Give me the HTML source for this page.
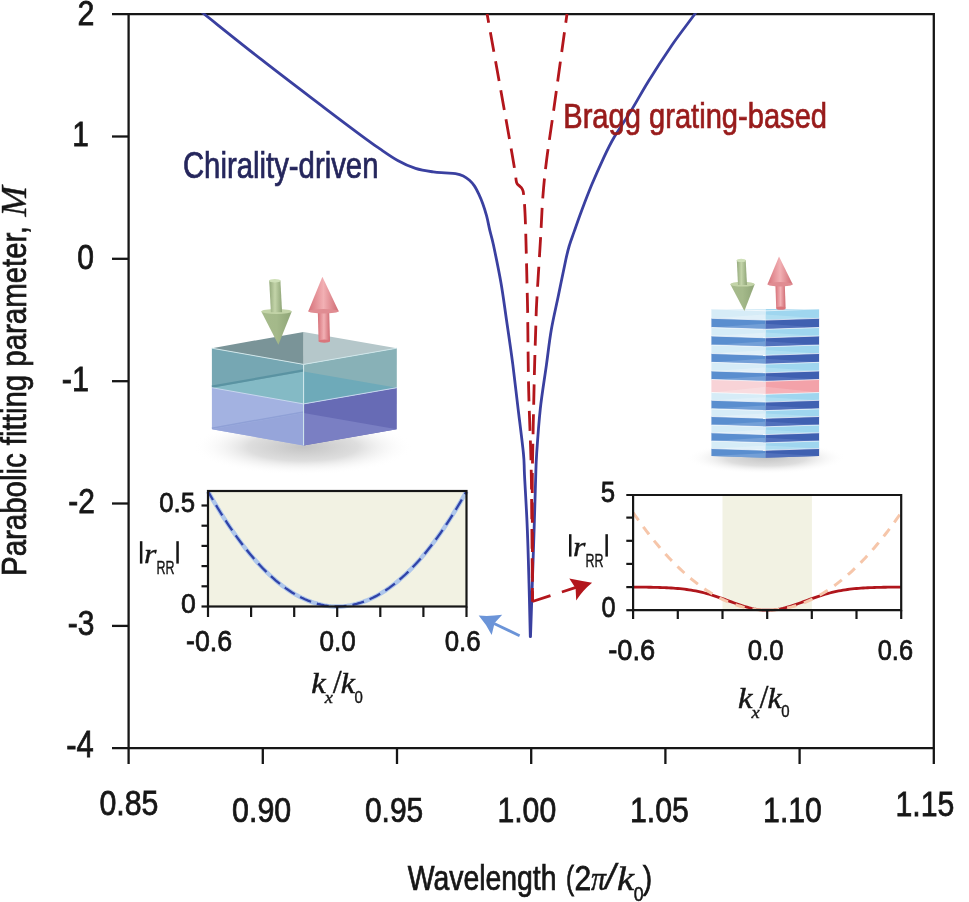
<!DOCTYPE html>
<html><head><meta charset="utf-8"><title>Parabolic fitting parameter</title>
<style>html,body{margin:0;padding:0;background:#fff;width:969px;height:902px;overflow:hidden}
svg{display:block;will-change:transform}</style></head>
<body><svg width="969" height="902" viewBox="0 0 969 902">
<rect width="969" height="902" fill="#fff"/>
<g stroke="#161616" stroke-width="2.3" fill="none">
<path d="M112,14.1 H933.8 V748.2 H112"/>
<path d="M128.6,13.0 V764"/>
<path d="M933.8,748.2 V764"/>
<path d="M112,136.5 H128.6"/>
<path d="M112,258.8 H128.6"/>
<path d="M112,381.2 H128.6"/>
<path d="M112,503.5 H128.6"/>
<path d="M112,625.9 H128.6"/>
<path d="M262.8,748.2 V764"/>
<path d="M397.0,748.2 V764"/>
<path d="M531.2,748.2 V764"/>
<path d="M665.4,748.2 V764"/>
<path d="M799.6,748.2 V764"/>
</g>
<text transform="translate(77.47,24.52) scale(0.8600,1)" font-family='"Liberation Sans", sans-serif' font-size="35.36" fill="#161616" stroke="#161616" stroke-width="0.75">2</text>
<text transform="translate(72.30,146.32) scale(0.8600,1)" font-family='"Liberation Sans", sans-serif' font-size="34.71" fill="#161616" stroke="#161616" stroke-width="0.75">1</text>
<text transform="translate(77.27,268.77) scale(0.8600,1)" font-family='"Liberation Sans", sans-serif' font-size="35.00" fill="#161616" stroke="#161616" stroke-width="0.75">0</text>
<text transform="translate(61.77,390.93) scale(0.8600,1)" font-family='"Liberation Sans", sans-serif' font-size="35.58" fill="#161616" stroke="#161616" stroke-width="0.75">-1</text>
<text transform="translate(68.20,513.23) scale(0.8600,1)" font-family='"Liberation Sans", sans-serif' font-size="34.79" fill="#161616" stroke="#161616" stroke-width="0.75">-2</text>
<text transform="translate(67.84,634.98) scale(0.8600,1)" font-family='"Liberation Sans", sans-serif' font-size="34.86" fill="#161616" stroke="#161616" stroke-width="0.75">-3</text>
<text transform="translate(66.19,757.42) scale(0.8600,1)" font-family='"Liberation Sans", sans-serif' font-size="36.01" fill="#161616" stroke="#161616" stroke-width="0.75">-4</text>
<text transform="translate(99.46,814.88) scale(0.8841,1)" font-family='"Liberation Sans", sans-serif' font-size="34.30" fill="#161616" stroke="#161616" stroke-width="0.75">0.85</text>
<text transform="translate(232.06,822.07) scale(0.8617,1)" font-family='"Liberation Sans", sans-serif' font-size="35.28" fill="#161616" stroke="#161616" stroke-width="0.75">0.90</text>
<text transform="translate(364.88,822.07) scale(0.8503,1)" font-family='"Liberation Sans", sans-serif' font-size="35.28" fill="#161616" stroke="#161616" stroke-width="0.75">0.95</text>
<text transform="translate(497.41,822.07) scale(0.8565,1)" font-family='"Liberation Sans", sans-serif' font-size="35.28" fill="#161616" stroke="#161616" stroke-width="0.75">1.00</text>
<text transform="translate(630.00,822.07) scale(0.8588,1)" font-family='"Liberation Sans", sans-serif' font-size="35.28" fill="#161616" stroke="#161616" stroke-width="0.75">1.05</text>
<text transform="translate(763.11,822.07) scale(0.8565,1)" font-family='"Liberation Sans", sans-serif' font-size="35.28" fill="#161616" stroke="#161616" stroke-width="0.75">1.10</text>
<text transform="translate(895.51,815.57) scale(0.8624,1)" font-family='"Liberation Sans", sans-serif' font-size="35.07" fill="#161616" stroke="#161616" stroke-width="0.75">1.15</text>
<text transform="translate(407.73,889.90) scale(0.8230,1)" font-family='"Liberation Sans", sans-serif' font-size="34.50" fill="#161616" stroke="#161616" stroke-width="0.75">Wavelength</text>
<text transform="translate(566.11,889.41) scale(0.7282,1)" font-family='"Liberation Sans", sans-serif' font-size="33.42" fill="#161616" stroke="#161616" stroke-width="0.75">(</text>
<text transform="translate(574.38,889.73) scale(0.8732,1)" font-family='"Liberation Sans", sans-serif' font-size="34.36" fill="#161616" stroke="#161616" stroke-width="0.75">2</text>
<text transform="translate(591.10,889.52) scale(0.9038,1)" font-family='"Liberation Serif", serif' font-style="italic" font-size="32.98" fill="#161616" stroke="#161616" stroke-width="0.50">π</text>
<text transform="translate(605.51,889.41) scale(1.0417,1)" font-family='"Liberation Sans", sans-serif' font-style="italic" font-size="34.29" fill="#161616" stroke="#161616" stroke-width="0.50">/</text>
<text transform="translate(616.90,890.00) scale(1.1421,1)" font-family='"Liberation Serif", serif' font-style="italic" font-size="33.60" fill="#161616" stroke="#161616" stroke-width="0.50">k</text>
<text transform="translate(633.64,900.95) scale(0.9045,1)" font-family='"Liberation Sans", sans-serif' font-size="19.58" fill="#161616" stroke="#161616" stroke-width="0.50">0</text>
<text transform="translate(642.83,889.41) scale(0.8411,1)" font-family='"Liberation Sans", sans-serif' font-size="33.42" fill="#161616" stroke="#161616" stroke-width="0.75">)</text>
<g transform="translate(0,902) rotate(-90)">
<text transform="translate(326.02,25.60) scale(0.8427,1)" font-family='"Liberation Sans", sans-serif' font-size="34.93" fill="#161616" stroke="#161616" stroke-width="0.75">Parabolic fitting parameter,</text>
<text transform="translate(685.57,25.60) scale(1.0399,1)" font-family='"Liberation Serif", serif' font-style="italic" font-size="35.11" fill="#161616" stroke="#161616" stroke-width="0.40">M</text>
</g>
<defs>
<radialGradient id="shadowL" cx="50%" cy="50%" r="50%">
 <stop offset="0" stop-color="#c4c4c4"/><stop offset="0.5" stop-color="#dedede"/><stop offset="1" stop-color="#ffffff" stop-opacity="0"/>
</radialGradient>
<linearGradient id="gArrowG" x1="0" y1="0" x2="1" y2="0">
 <stop offset="0" stop-color="#95aa7d"/><stop offset="0.45" stop-color="#c3d4a9"/><stop offset="1" stop-color="#8fa577"/>
</linearGradient>
<linearGradient id="gArrowGH" x1="0" y1="0" x2="1" y2="0">
 <stop offset="0" stop-color="#a6ba8c"/><stop offset="0.5" stop-color="#a4b98a"/><stop offset="1" stop-color="#8fa577"/>
</linearGradient>
<linearGradient id="gArrowR" x1="0" y1="0" x2="1" y2="0">
 <stop offset="0" stop-color="#d6727a"/><stop offset="0.5" stop-color="#f2b0b4"/><stop offset="1" stop-color="#cf6a72"/>
</linearGradient>
</defs>
<ellipse cx="303" cy="447" rx="110" ry="28" fill="url(#shadowL)"/>
<polygon points="211.9,387.7 303.6,403.9 303.6,445.4 211.9,429.2" fill="#a3b2e1" />
<polygon points="303.6,403.9 396.8,387.7 396.8,429.2 303.6,445.4" fill="#676bb5" />
<polygon points="211.9,429.2 303.6,412.9 303.6,445.4" fill="#96a5da" />
<polygon points="303.6,412.9 396.8,429.2 303.6,445.4" fill="#7a7fc3" />
<polygon points="211.9,348.2 303.6,364.4 303.6,403.9 211.9,387.7" fill="#76a7b3" />
<polygon points="303.6,364.4 396.8,348.2 396.8,387.7 303.6,403.9" fill="#88b1b7" />
<polygon points="211.9,387.7 303.6,371.4 303.6,403.9" fill="#84bac5" />
<polygon points="303.6,371.4 396.8,387.7 303.6,403.9" fill="#6eaab9" />
<line x1="211.9" y1="386.7" x2="303.6" y2="370.4" stroke="#5a93a2" stroke-width="2.2"/>
<line x1="211.9" y1="428.2" x2="303.6" y2="411.9" stroke="#8fa0d6" stroke-width="1.5"/>
<polygon points="211.9,348.2 303.6,331.9 303.6,364.4" fill="#7a9498" />
<polygon points="303.6,331.9 396.8,348.2 303.6,364.4" fill="#b5c7ca" />
<polyline points="211.9,348.2 303.6,364.4 396.8,348.2" fill="none" stroke="#cfe6ea" stroke-width="1"/>
<polyline points="211.9,387.7 303.6,403.9 396.8,387.7" fill="none" stroke="#c8d6f0" stroke-width="1"/>
<line x1="303.6" y1="364.4" x2="303.6" y2="445.4" stroke="#d5ecef" stroke-width="1"/>
<path d="M261.3,311.5 L291.7,311.5 L278.4,344.8 Z" fill="url(#gArrowGH)"/><ellipse cx="276.5" cy="311.5" rx="15.2" ry="2.4" fill="#c3d4a8"/><polygon points="269.2,280.5 280.4,280.5 282.1,312.3 270.9,312.3" fill="url(#gArrowG)"/><ellipse cx="274.8" cy="280.8" rx="5.7" ry="1.7" fill="#cfe0b8"/>
<polygon points="317.8,311.3 329.2,311.3 330.0,341.2 318.6,341.2" fill="url(#gArrowR)"/><ellipse cx="324.3" cy="341.2" rx="5.7" ry="1.6" fill="#d9767c"/><path d="M308.3,311.3 L338.7,311.3 L322.4,276.8 Z" fill="url(#gArrowR)"/><ellipse cx="323.5" cy="311.3" rx="15.2" ry="2.2" fill="#e08c92"/>
<ellipse cx="766" cy="458" rx="80" ry="16" fill="url(#shadowL)"/>
<polygon points="711.4,309.0 765.7,309.0 765.7,320.1 711.4,318.3" fill="#d6ecf7" />
<polygon points="765.7,309.0 819.1,309.0 819.1,318.3 765.7,320.1" fill="#9fd6ef" />
<polygon points="711.4,318.3 765.7,314.4 765.7,320.1" fill="#e4f2f9" opacity="0.7"/>
<polygon points="765.7,314.4 819.1,318.3 765.7,320.1" fill="#b7e1f3" opacity="0.7"/>
<polyline points="711.4,309.0 765.7,310.8 819.1,309.0" fill="none" stroke="#ffffff" stroke-width="0.8" opacity="0.8"/>
<polygon points="711.4,318.3 765.7,320.1 765.7,329.3 711.4,327.5" fill="#5a8ecf" />
<polygon points="765.7,320.1 819.1,318.3 819.1,327.5 765.7,329.3" fill="#3f60b1" />
<polygon points="711.4,327.5 765.7,323.7 765.7,329.3" fill="#7ea6da" opacity="0.7"/>
<polygon points="765.7,323.7 819.1,327.5 765.7,329.3" fill="#5a77c0" opacity="0.7"/>
<polyline points="711.4,318.3 765.7,320.1 819.1,318.3" fill="none" stroke="#ffffff" stroke-width="0.8" opacity="0.8"/>
<polygon points="711.4,327.5 765.7,329.3 765.7,337.8 711.4,336.0" fill="#d6ecf7" />
<polygon points="765.7,329.3 819.1,327.5 819.1,336.0 765.7,337.8" fill="#9fd6ef" />
<polygon points="711.4,336.0 765.7,332.6 765.7,337.8" fill="#e4f2f9" opacity="0.7"/>
<polygon points="765.7,332.6 819.1,336.0 765.7,337.8" fill="#b7e1f3" opacity="0.7"/>
<polyline points="711.4,327.5 765.7,329.3 819.1,327.5" fill="none" stroke="#ffffff" stroke-width="0.8" opacity="0.8"/>
<polygon points="711.4,336.0 765.7,337.8 765.7,346.8 711.4,345.0" fill="#5a8ecf" />
<polygon points="765.7,337.8 819.1,336.0 819.1,345.0 765.7,346.8" fill="#3f60b1" />
<polygon points="711.4,345.0 765.7,341.3 765.7,346.8" fill="#7ea6da" opacity="0.7"/>
<polygon points="765.7,341.3 819.1,345.0 765.7,346.8" fill="#5a77c0" opacity="0.7"/>
<polyline points="711.4,336.0 765.7,337.8 819.1,336.0" fill="none" stroke="#ffffff" stroke-width="0.8" opacity="0.8"/>
<polygon points="711.4,345.0 765.7,346.8 765.7,355.3 711.4,353.5" fill="#d6ecf7" />
<polygon points="765.7,346.8 819.1,345.0 819.1,353.5 765.7,355.3" fill="#9fd6ef" />
<polygon points="711.4,353.5 765.7,350.1 765.7,355.3" fill="#e4f2f9" opacity="0.7"/>
<polygon points="765.7,350.1 819.1,353.5 765.7,355.3" fill="#b7e1f3" opacity="0.7"/>
<polyline points="711.4,345.0 765.7,346.8 819.1,345.0" fill="none" stroke="#ffffff" stroke-width="0.8" opacity="0.8"/>
<polygon points="711.4,353.5 765.7,355.3 765.7,364.1 711.4,362.3" fill="#5a8ecf" />
<polygon points="765.7,355.3 819.1,353.5 819.1,362.3 765.7,364.1" fill="#3f60b1" />
<polygon points="711.4,362.3 765.7,358.7 765.7,364.1" fill="#7ea6da" opacity="0.7"/>
<polygon points="765.7,358.7 819.1,362.3 765.7,364.1" fill="#5a77c0" opacity="0.7"/>
<polyline points="711.4,353.5 765.7,355.3 819.1,353.5" fill="none" stroke="#ffffff" stroke-width="0.8" opacity="0.8"/>
<polygon points="711.4,362.3 765.7,364.1 765.7,372.8 711.4,371.0" fill="#d6ecf7" />
<polygon points="765.7,364.1 819.1,362.3 819.1,371.0 765.7,372.8" fill="#9fd6ef" />
<polygon points="711.4,371.0 765.7,367.4 765.7,372.8" fill="#e4f2f9" opacity="0.7"/>
<polygon points="765.7,367.4 819.1,371.0 765.7,372.8" fill="#b7e1f3" opacity="0.7"/>
<polyline points="711.4,362.3 765.7,364.1 819.1,362.3" fill="none" stroke="#ffffff" stroke-width="0.8" opacity="0.8"/>
<polygon points="711.4,371.0 765.7,372.8 765.7,381.3 711.4,379.5" fill="#5a8ecf" />
<polygon points="765.7,372.8 819.1,371.0 819.1,379.5 765.7,381.3" fill="#3f60b1" />
<polygon points="711.4,379.5 765.7,376.1 765.7,381.3" fill="#7ea6da" opacity="0.7"/>
<polygon points="765.7,376.1 819.1,379.5 765.7,381.3" fill="#5a77c0" opacity="0.7"/>
<polyline points="711.4,371.0 765.7,372.8 819.1,371.0" fill="none" stroke="#ffffff" stroke-width="0.8" opacity="0.8"/>
<polygon points="711.4,379.5 765.7,381.3 765.7,394.3 711.4,392.5" fill="#f8d3d7" />
<polygon points="765.7,381.3 819.1,379.5 819.1,392.5 765.7,394.3" fill="#f3a2a9" />
<polygon points="711.4,392.5 765.7,386.8 765.7,394.3" fill="#fae0e2" opacity="0.7"/>
<polygon points="765.7,386.8 819.1,392.5 765.7,394.3" fill="#f6b8bd" opacity="0.7"/>
<polyline points="711.4,379.5 765.7,381.3 819.1,379.5" fill="none" stroke="#ffffff" stroke-width="0.8" opacity="0.8"/>
<polygon points="711.4,392.5 765.7,394.3 765.7,402.1 711.4,400.3" fill="#d6ecf7" />
<polygon points="765.7,394.3 819.1,392.5 819.1,400.3 765.7,402.1" fill="#9fd6ef" />
<polygon points="711.4,400.3 765.7,397.2 765.7,402.1" fill="#e4f2f9" opacity="0.7"/>
<polygon points="765.7,397.2 819.1,400.3 765.7,402.1" fill="#b7e1f3" opacity="0.7"/>
<polyline points="711.4,392.5 765.7,394.3 819.1,392.5" fill="none" stroke="#ffffff" stroke-width="0.8" opacity="0.8"/>
<polygon points="711.4,400.3 765.7,402.1 765.7,410.6 711.4,408.8" fill="#5a8ecf" />
<polygon points="765.7,402.1 819.1,400.3 819.1,408.8 765.7,410.6" fill="#3f60b1" />
<polygon points="711.4,408.8 765.7,405.4 765.7,410.6" fill="#7ea6da" opacity="0.7"/>
<polygon points="765.7,405.4 819.1,408.8 765.7,410.6" fill="#5a77c0" opacity="0.7"/>
<polyline points="711.4,400.3 765.7,402.1 819.1,400.3" fill="none" stroke="#ffffff" stroke-width="0.8" opacity="0.8"/>
<polygon points="711.4,408.8 765.7,410.6 765.7,418.3 711.4,416.5" fill="#d6ecf7" />
<polygon points="765.7,410.6 819.1,408.8 819.1,416.5 765.7,418.3" fill="#9fd6ef" />
<polygon points="711.4,416.5 765.7,413.4 765.7,418.3" fill="#e4f2f9" opacity="0.7"/>
<polygon points="765.7,413.4 819.1,416.5 765.7,418.3" fill="#b7e1f3" opacity="0.7"/>
<polyline points="711.4,408.8 765.7,410.6 819.1,408.8" fill="none" stroke="#ffffff" stroke-width="0.8" opacity="0.8"/>
<polygon points="711.4,416.5 765.7,418.3 765.7,426.8 711.4,425.0" fill="#5a8ecf" />
<polygon points="765.7,418.3 819.1,416.5 819.1,425.0 765.7,426.8" fill="#3f60b1" />
<polygon points="711.4,425.0 765.7,421.6 765.7,426.8" fill="#7ea6da" opacity="0.7"/>
<polygon points="765.7,421.6 819.1,425.0 765.7,426.8" fill="#5a77c0" opacity="0.7"/>
<polyline points="711.4,416.5 765.7,418.3 819.1,416.5" fill="none" stroke="#ffffff" stroke-width="0.8" opacity="0.8"/>
<polygon points="711.4,425.0 765.7,426.8 765.7,434.6 711.4,432.8" fill="#d6ecf7" />
<polygon points="765.7,426.8 819.1,425.0 819.1,432.8 765.7,434.6" fill="#9fd6ef" />
<polygon points="711.4,432.8 765.7,429.7 765.7,434.6" fill="#e4f2f9" opacity="0.7"/>
<polygon points="765.7,429.7 819.1,432.8 765.7,434.6" fill="#b7e1f3" opacity="0.7"/>
<polyline points="711.4,425.0 765.7,426.8 819.1,425.0" fill="none" stroke="#ffffff" stroke-width="0.8" opacity="0.8"/>
<polygon points="711.4,432.8 765.7,434.6 765.7,442.8 711.4,441.0" fill="#5a8ecf" />
<polygon points="765.7,434.6 819.1,432.8 819.1,441.0 765.7,442.8" fill="#3f60b1" />
<polygon points="711.4,441.0 765.7,437.7 765.7,442.8" fill="#7ea6da" opacity="0.7"/>
<polygon points="765.7,437.7 819.1,441.0 765.7,442.8" fill="#5a77c0" opacity="0.7"/>
<polyline points="711.4,432.8 765.7,434.6 819.1,432.8" fill="none" stroke="#ffffff" stroke-width="0.8" opacity="0.8"/>
<polygon points="711.4,441.0 765.7,442.8 765.7,450.3 711.4,448.5" fill="#d6ecf7" />
<polygon points="765.7,442.8 819.1,441.0 819.1,448.5 765.7,450.3" fill="#9fd6ef" />
<polygon points="711.4,448.5 765.7,445.6 765.7,450.3" fill="#e4f2f9" opacity="0.7"/>
<polygon points="765.7,445.6 819.1,448.5 765.7,450.3" fill="#b7e1f3" opacity="0.7"/>
<polyline points="711.4,441.0 765.7,442.8 819.1,441.0" fill="none" stroke="#ffffff" stroke-width="0.8" opacity="0.8"/>
<polygon points="711.4,448.5 765.7,450.3 765.7,457.8 711.4,456.0" fill="#5a8ecf" />
<polygon points="765.7,450.3 819.1,448.5 819.1,456.0 765.7,457.8" fill="#3f60b1" />
<polygon points="711.4,456.0 765.7,453.1 765.7,457.8" fill="#7ea6da" opacity="0.7"/>
<polygon points="765.7,453.1 819.1,456.0 765.7,457.8" fill="#5a77c0" opacity="0.7"/>
<polyline points="711.4,448.5 765.7,450.3 819.1,448.5" fill="none" stroke="#ffffff" stroke-width="0.8" opacity="0.8"/>
<path d="M730.3,284.2 L754.7,284.2 L744.4,311.1 Z" fill="url(#gArrowGH)"/><ellipse cx="742.5" cy="284.2" rx="12.2" ry="2.4" fill="#c3d4a8"/><polygon points="736.8,260.1 745.7,260.1 747.0,285.0 738.0,285.0" fill="url(#gArrowG)"/><ellipse cx="741.2" cy="260.4" rx="4.5" ry="1.7" fill="#cfe0b8"/>
<polygon points="775.4,284.3 784.8,284.3 785.6,308.2 776.2,308.2" fill="url(#gArrowR)"/><ellipse cx="780.9" cy="308.2" rx="4.7" ry="1.6" fill="#d9767c"/><path d="M767.5,284.3 L792.7,284.3 L779.0,256.6 Z" fill="url(#gArrowR)"/><ellipse cx="780.1" cy="284.3" rx="12.6" ry="2.2" fill="#e08c92"/>
<clipPath id="plotclip"><rect x="0" y="13.2" width="969" height="890"/></clipPath>
<g clip-path="url(#plotclip)">
<path d="M192.5,4.8 C194.4,6.3 192.5,4.8 204.1,14.0 C215.7,23.2 241.9,44.4 261.9,59.9 C281.8,75.5 306.6,94.2 323.8,107.3 C341.0,120.4 355.7,131.4 365.1,138.3 C374.5,145.2 374.6,145.2 380.0,148.9 C385.4,152.6 391.8,157.2 397.7,160.4 C403.6,163.7 409.6,166.5 415.5,168.4 C421.4,170.3 428.3,171.2 433.2,171.9 C438.1,172.6 441.3,172.5 445.0,172.8 C448.7,173.1 452.4,173.1 455.5,173.6 C458.6,174.1 461.0,174.8 463.3,175.9 C465.6,177.0 467.7,178.6 469.5,180.2 C471.3,181.8 472.6,183.3 474.2,185.6 C475.8,187.9 477.4,191.2 478.8,194.2 C480.2,197.2 481.4,199.9 482.7,203.5 C484.0,207.1 485.4,211.5 486.6,215.9 C487.8,220.3 488.6,225.2 489.7,229.9 C490.8,234.6 491.4,235.5 493.3,244.3 C495.2,253.2 498.8,270.4 501.0,283.0 C503.2,295.6 504.5,306.4 506.5,320.0 C508.5,333.6 510.9,349.6 512.8,364.4 C514.7,379.2 516.3,394.0 518.1,408.8 C519.9,423.6 522.3,442.1 523.4,453.1 C524.5,464.1 523.9,462.8 524.5,475.0 C525.1,487.2 526.5,508.6 527.2,526.6 C528.0,544.6 528.5,564.9 529.0,583.2 C529.5,601.5 530.1,627.7 530.3,636.6 L530.5,636.6 C530.8,627.7 531.7,601.5 532.3,583.2 C532.9,564.9 533.7,543.8 534.2,526.6 C534.8,509.4 535.2,492.2 535.6,480.0 C536.0,467.8 535.9,465.0 536.7,453.1 C537.5,441.2 538.7,423.6 540.3,408.8 C541.9,394.0 544.7,377.6 546.5,364.4 C548.3,351.2 549.3,341.4 551.3,329.8 C553.3,318.2 556.1,306.7 558.5,295.0 C560.9,283.3 564.0,268.0 565.8,259.7 C567.6,251.4 568.0,250.1 569.4,245.3 C570.8,240.5 572.4,236.7 574.4,230.9 C576.4,225.1 578.7,218.4 581.6,210.7 C584.5,203.0 588.1,193.5 591.7,184.8 C595.3,176.2 599.5,166.7 603.2,158.8 C606.9,150.9 609.4,145.4 614.0,137.5 C618.6,129.6 625.0,120.6 630.8,111.2 C636.6,101.8 641.8,92.0 648.6,81.0 C655.4,70.0 664.2,56.5 671.7,45.5 C679.2,34.5 689.1,22.0 693.9,15.3 C698.7,8.6 699.4,7.1 700.5,5.5" fill="none" stroke="#3a40a0" stroke-width="2.8" stroke-linejoin="round"/>
<path d="M487.1,14.0 C490.9,35.0 505.0,113.8 509.6,139.8 C514.2,165.8 513.6,163.1 514.8,170.2 C516.0,177.3 515.8,180.0 516.6,182.6 C517.4,185.2 518.6,185.0 519.5,186.0 C520.4,187.0 521.2,187.0 521.9,188.5 C522.6,190.0 523.1,188.9 523.7,195.0 C524.3,201.1 524.9,207.6 525.5,225.1 C526.1,242.6 527.0,283.3 527.4,300.0 C527.8,316.7 527.6,310.1 527.8,325.3 C528.0,340.5 528.2,371.2 528.7,391.0 C529.2,410.8 530.0,429.5 530.5,444.3 C531.0,459.1 531.1,464.1 531.4,480.0 C531.6,495.9 531.8,519.8 532.0,540.0 C532.2,560.2 532.4,591.2 532.5,601.5" fill="none" stroke="#b3161c" stroke-width="2.8" stroke-dasharray="20 9.5" stroke-dashoffset="11"/>
<path d="M567.0,14.0 C564.8,29.6 557.4,83.5 554.0,107.8 C550.6,132.1 548.5,145.0 546.6,160.0 C544.7,175.0 543.8,184.5 542.8,197.7 C541.8,210.9 541.5,222.2 540.5,239.3 C539.5,256.4 537.6,285.4 536.8,300.0 C536.0,314.6 536.2,314.8 535.8,327.0 C535.4,339.2 534.8,356.7 534.4,373.3 C534.0,389.9 533.6,408.7 533.2,426.5 C532.9,444.3 532.4,461.1 532.3,480.0 C532.2,498.9 532.4,519.8 532.4,540.0 C532.4,560.2 532.5,591.2 532.5,601.5" fill="none" stroke="#b3161c" stroke-width="2.8" stroke-dasharray="20 9.5" stroke-dashoffset="11"/>
</g>
<text transform="translate(182.91,177.60) scale(0.8069,1)" font-family='"Liberation Sans", sans-serif' font-size="36.35" fill="#25265c" stroke="#25265c" stroke-width="0.75">Chirality-driven</text>
<text transform="translate(563.24,128.00) scale(0.8305,1)" font-family='"Liberation Sans", sans-serif' font-size="35.07" fill="#981b1b" stroke="#981b1b" stroke-width="0.75">Bragg grating-based</text>
<path d="M532.4,601.5 L576,587.4" fill="none" stroke="#b3161c" stroke-width="2.8" stroke-dasharray="19 12"/>
<path d="M592.1,582.7 Q580,580.5 569.3,578.4 L575.6,588.2 L576.2,600.4 Q583,590 592.1,582.7 Z" fill="#b3161c"/>
<path d="M519.6,635.7 L494,623.5" fill="none" stroke="#6b94d8" stroke-width="2.8"/>
<path d="M478.7,615.6 Q490,616.5 502.2,614.8 L494.6,622.9 L491.7,634.9 Q486,624 478.7,615.6 Z" fill="#6b94d8"/>
<rect x="208.0" y="491.0" width="258.5" height="115.5" fill="#f2f2e3"/>
<path d="M208.00,491.36 L211.23,497.05 L214.46,502.59 L217.69,507.98 L220.92,513.24 L224.16,518.35 L227.39,523.31 L230.62,528.13 L233.85,532.81 L237.08,537.34 L240.31,541.73 L243.54,545.98 L246.78,550.08 L250.01,554.04 L253.24,557.85 L256.47,561.52 L259.70,565.05 L262.93,568.43 L266.16,571.67 L269.39,574.76 L272.62,577.72 L275.86,580.52 L279.09,583.18 L282.32,585.70 L285.55,588.08 L288.78,590.31 L292.01,592.40 L295.24,594.34 L298.48,596.14 L301.71,597.79 L304.94,599.30 L308.17,600.67 L311.40,601.89 L314.63,602.97 L317.86,603.91 L321.09,604.70 L324.32,605.35 L327.56,605.85 L330.79,606.21 L334.02,606.43 L337.25,606.50 L340.48,606.43 L343.71,606.21 L346.94,605.85 L350.18,605.35 L353.41,604.70 L356.64,603.91 L359.87,602.97 L363.10,601.89 L366.33,600.67 L369.56,599.30 L372.79,597.79 L376.03,596.14 L379.26,594.34 L382.49,592.40 L385.72,590.31 L388.95,588.08 L392.18,585.70 L395.41,583.18 L398.64,580.52 L401.88,577.72 L405.11,574.76 L408.34,571.67 L411.57,568.43 L414.80,565.05 L418.03,561.52 L421.26,557.85 L424.49,554.04 L427.73,550.08 L430.96,545.98 L434.19,541.73 L437.42,537.34 L440.65,532.81 L443.88,528.13 L447.11,523.31 L450.34,518.35 L453.58,513.24 L456.81,507.98 L460.04,502.59 L463.27,497.05 L466.50,491.36" fill="none" stroke="#aec6eb" stroke-width="4.4"/>
<path d="M208.00,491.36 L211.23,497.05 L214.46,502.59 L217.69,507.98 L220.92,513.24 L224.16,518.35 L227.39,523.31 L230.62,528.13 L233.85,532.81 L237.08,537.34 L240.31,541.73 L243.54,545.98 L246.78,550.08 L250.01,554.04 L253.24,557.85 L256.47,561.52 L259.70,565.05 L262.93,568.43 L266.16,571.67 L269.39,574.76 L272.62,577.72 L275.86,580.52 L279.09,583.18 L282.32,585.70 L285.55,588.08 L288.78,590.31 L292.01,592.40 L295.24,594.34 L298.48,596.14 L301.71,597.79 L304.94,599.30 L308.17,600.67 L311.40,601.89 L314.63,602.97 L317.86,603.91 L321.09,604.70 L324.32,605.35 L327.56,605.85 L330.79,606.21 L334.02,606.43 L337.25,606.50 L340.48,606.43 L343.71,606.21 L346.94,605.85 L350.18,605.35 L353.41,604.70 L356.64,603.91 L359.87,602.97 L363.10,601.89 L366.33,600.67 L369.56,599.30 L372.79,597.79 L376.03,596.14 L379.26,594.34 L382.49,592.40 L385.72,590.31 L388.95,588.08 L392.18,585.70 L395.41,583.18 L398.64,580.52 L401.88,577.72 L405.11,574.76 L408.34,571.67 L411.57,568.43 L414.80,565.05 L418.03,561.52 L421.26,557.85 L424.49,554.04 L427.73,550.08 L430.96,545.98 L434.19,541.73 L437.42,537.34 L440.65,532.81 L443.88,528.13 L447.11,523.31 L450.34,518.35 L453.58,513.24 L456.81,507.98 L460.04,502.59 L463.27,497.05 L466.50,491.36" fill="none" stroke="#3043a8" stroke-width="2.3" stroke-dasharray="12 6" stroke-dashoffset="2"/>
<g stroke="#161616" stroke-width="2.2" fill="none">
<rect x="208.0" y="491.0" width="258.5" height="115.5"/>
<path d="M201.5,606.5 H208.0"/>
<path d="M201.5,586.3 H208.0"/>
<path d="M201.5,566.1 H208.0"/>
<path d="M201.5,545.9 H208.0"/>
<path d="M201.5,525.7 H208.0"/>
<path d="M201.5,505.5 H208.0"/>
<path d="M208.0,606.5 V617"/>
<path d="M251.1,606.5 V617"/>
<path d="M294.2,606.5 V617"/>
<path d="M337.2,606.5 V617"/>
<path d="M380.3,606.5 V617"/>
<path d="M423.4,606.5 V617"/>
<path d="M466.5,606.5 V617"/>
</g>
<text transform="translate(159.24,512.04) scale(0.9033,1)" font-family='"Liberation Sans", sans-serif' font-size="28.52" fill="#161616" stroke="#161616" stroke-width="0.75">0.5</text>
<text transform="translate(180.91,613.04) scale(0.9359,1)" font-family='"Liberation Sans", sans-serif' font-size="28.38" fill="#161616" stroke="#161616" stroke-width="0.75">0</text>
<text transform="translate(186.07,651.13) scale(0.9068,1)" font-family='"Liberation Sans", sans-serif' font-size="29.51" fill="#161616" stroke="#161616" stroke-width="0.75">-0.6</text>
<text transform="translate(319.53,651.23) scale(0.8853,1)" font-family='"Liberation Sans", sans-serif' font-size="29.51" fill="#161616" stroke="#161616" stroke-width="0.75">0.0</text>
<text transform="translate(444.64,651.23) scale(0.8633,1)" font-family='"Liberation Sans", sans-serif' font-size="29.93" fill="#161616" stroke="#161616" stroke-width="0.75">0.6</text>
<rect x="139.9" y="541.2" width="2.5" height="22.4" fill="#161616"/><text transform="translate(144.02,563.40) scale(1.1394,1)" font-family='"Liberation Serif", serif' font-style="italic" font-size="28.09" fill="#161616" stroke="#161616" stroke-width="0.40">r</text><text transform="translate(156.40,573.50) scale(0.6996,1)" font-family='"Liberation Sans", sans-serif' font-size="17.83" fill="#161616" stroke="#161616" stroke-width="0.40">RR</text><rect x="176.3" y="541.2" width="2.5" height="22.4" fill="#161616"/>
<text transform="translate(311.17,693.20) scale(1.0958,1)" font-family='"Liberation Serif", serif' font-style="italic" font-size="29.71" fill="#161616" stroke="#161616" stroke-width="0.50">k</text><text transform="translate(324.68,703.00) scale(1.0877,1)" font-family='"Liberation Serif", serif' font-style="italic" font-size="16.96" fill="#161616" stroke="#161616" stroke-width="0.40">x</text><text transform="translate(333.92,693.05) scale(0.6984,1)" font-family='"Liberation Sans", sans-serif' font-style="italic" font-size="30.34" fill="#161616" stroke="#161616" stroke-width="0.50">/</text><text transform="translate(340.69,693.20) scale(1.0723,1)" font-family='"Liberation Serif", serif' font-style="italic" font-size="29.71" fill="#161616" stroke="#161616" stroke-width="0.50">k</text><text transform="translate(354.50,702.63) scale(0.8659,1)" font-family='"Liberation Sans", sans-serif' font-size="17.32" fill="#161616" stroke="#161616" stroke-width="0.40">0</text>
<rect x="722.5" y="495.0" width="89.4" height="115.2" fill="#f2f2e3"/>
<path d="M633.10,587.10 L635.33,587.11 L637.57,587.12 L639.80,587.13 L642.04,587.15 L644.27,587.17 L646.51,587.20 L648.74,587.23 L650.97,587.26 L653.21,587.31 L655.44,587.35 L657.68,587.41 L659.91,587.48 L662.14,587.55 L664.38,587.64 L666.61,587.74 L668.85,587.86 L671.08,587.99 L673.32,588.14 L675.55,588.31 L677.78,588.50 L680.02,588.71 L682.25,588.95 L684.49,589.21 L686.72,589.50 L688.95,589.82 L691.19,590.17 L693.42,590.56 L695.66,590.97 L697.89,591.43 L700.13,591.92 L702.36,592.44 L704.59,593.00 L706.83,593.59 L709.06,594.22 L711.30,594.89 L713.53,595.58 L715.76,596.31 L718.00,597.06 L720.23,597.83 L722.47,598.62 L724.70,599.43 L726.94,600.25 L729.17,601.08 L731.40,601.90 L733.64,602.72 L735.87,603.53 L738.11,604.32 L740.34,605.09 L742.57,605.82 L744.81,606.52 L747.04,607.17 L749.28,607.77 L751.51,608.32 L753.75,608.80 L755.98,609.22 L758.21,609.57 L760.45,609.84 L762.68,610.04 L764.92,610.16 L767.15,610.20 L769.38,610.16 L771.62,610.04 L773.85,609.84 L776.09,609.57 L778.32,609.22 L780.56,608.80 L782.79,608.32 L785.02,607.77 L787.26,607.17 L789.49,606.52 L791.73,605.82 L793.96,605.09 L796.19,604.32 L798.43,603.53 L800.66,602.72 L802.90,601.90 L805.13,601.08 L807.37,600.25 L809.60,599.43 L811.83,598.62 L814.07,597.83 L816.30,597.06 L818.54,596.31 L820.77,595.58 L823.00,594.89 L825.24,594.22 L827.47,593.59 L829.71,593.00 L831.94,592.44 L834.18,591.92 L836.41,591.43 L838.64,590.97 L840.88,590.56 L843.11,590.17 L845.35,589.82 L847.58,589.50 L849.81,589.21 L852.05,588.95 L854.28,588.71 L856.52,588.50 L858.75,588.31 L860.99,588.14 L863.22,587.99 L865.45,587.86 L867.69,587.74 L869.92,587.64 L872.16,587.55 L874.39,587.48 L876.62,587.41 L878.86,587.35 L881.09,587.31 L883.33,587.26 L885.56,587.23 L887.80,587.20 L890.03,587.17 L892.26,587.15 L894.50,587.13 L896.73,587.12 L898.97,587.11 L901.20,587.10" fill="none" stroke="#b0161c" stroke-width="2.8"/>
<path d="M633.10,512.53 L635.33,515.75 L637.57,518.93 L639.80,522.05 L642.04,525.11 L644.27,528.13 L646.51,531.08 L648.74,533.99 L650.97,536.84 L653.21,539.63 L655.44,542.37 L657.68,545.06 L659.91,547.69 L662.14,550.27 L664.38,552.79 L666.61,555.26 L668.85,557.67 L671.08,560.03 L673.32,562.34 L675.55,564.59 L677.78,566.79 L680.02,568.93 L682.25,571.02 L684.49,573.06 L686.72,575.04 L688.95,576.96 L691.19,578.84 L693.42,580.65 L695.66,582.42 L697.89,584.13 L700.13,585.78 L702.36,587.38 L704.59,588.93 L706.83,590.42 L709.06,591.86 L711.30,593.24 L713.53,594.57 L715.76,595.85 L718.00,597.07 L720.23,598.23 L722.47,599.35 L724.70,600.41 L726.94,601.41 L729.17,602.36 L731.40,603.25 L733.64,604.10 L735.87,604.88 L738.11,605.61 L740.34,606.29 L742.57,606.92 L744.81,607.49 L747.04,608.00 L749.28,608.46 L751.51,608.87 L753.75,609.22 L755.98,609.52 L758.21,609.77 L760.45,609.96 L762.68,610.09 L764.92,610.17 L767.15,610.20 L769.38,610.17 L771.62,610.09 L773.85,609.96 L776.09,609.77 L778.32,609.52 L780.56,609.22 L782.79,608.87 L785.02,608.46 L787.26,608.00 L789.49,607.49 L791.73,606.92 L793.96,606.29 L796.19,605.61 L798.43,604.88 L800.66,604.10 L802.90,603.25 L805.13,602.36 L807.37,601.41 L809.60,600.41 L811.83,599.35 L814.07,598.23 L816.30,597.07 L818.54,595.85 L820.77,594.57 L823.00,593.24 L825.24,591.86 L827.47,590.42 L829.71,588.93 L831.94,587.38 L834.18,585.78 L836.41,584.13 L838.64,582.42 L840.88,580.65 L843.11,578.84 L845.35,576.96 L847.58,575.04 L849.81,573.06 L852.05,571.02 L854.28,568.93 L856.52,566.79 L858.75,564.59 L860.99,562.34 L863.22,560.03 L865.45,557.67 L867.69,555.26 L869.92,552.79 L872.16,550.27 L874.39,547.69 L876.62,545.06 L878.86,542.37 L881.09,539.63 L883.33,536.84 L885.56,533.99 L887.80,531.08 L890.03,528.13 L892.26,525.11 L894.50,522.05 L896.73,518.93 L898.97,515.75 L901.20,512.53" fill="none" stroke="#f6c6aa" stroke-width="3.0" stroke-dasharray="9.5 8"/>
<g stroke="#161616" stroke-width="2.2" fill="none">
<path d="M626.3,495.0 H901.2 V610.2 H633.1"/>
<path d="M633.1,495.0 V610.2"/>
<path d="M626.3,610.2 H633.1"/>
<path d="M626.3,587.1 H633.1"/>
<path d="M626.3,563.9 H633.1"/>
<path d="M626.3,540.8 H633.1"/>
<path d="M626.3,517.6 H633.1"/>
<path d="M633.1,610.2 V619"/>
<path d="M677.8,610.2 V619"/>
<path d="M722.5,610.2 V619"/>
<path d="M767.2,610.2 V619"/>
<path d="M811.8,610.2 V619"/>
<path d="M856.5,610.2 V619"/>
<path d="M901.2,610.2 V619"/>
</g>
<text transform="translate(600.74,501.54) scale(0.8915,1)" font-family='"Liberation Sans", sans-serif' font-size="28.93" fill="#161616" stroke="#161616" stroke-width="0.75">5</text>
<text transform="translate(601.46,617.23) scale(0.8497,1)" font-family='"Liberation Sans", sans-serif' font-size="29.79" fill="#161616" stroke="#161616" stroke-width="0.75">0</text>
<text transform="translate(608.25,660.43) scale(0.9104,1)" font-family='"Liberation Sans", sans-serif' font-size="29.93" fill="#161616" stroke="#161616" stroke-width="0.75">-0.6</text>
<text transform="translate(747.74,660.03) scale(0.8877,1)" font-family='"Liberation Sans", sans-serif' font-size="29.08" fill="#161616" stroke="#161616" stroke-width="0.75">0.0</text>
<text transform="translate(877.76,660.03) scale(0.8727,1)" font-family='"Liberation Sans", sans-serif' font-size="29.08" fill="#161616" stroke="#161616" stroke-width="0.75">0.6</text>
<rect x="569.0" y="534.2" width="2.5" height="22.4" fill="#161616"/><text transform="translate(573.12,556.40) scale(1.1394,1)" font-family='"Liberation Serif", serif' font-style="italic" font-size="28.09" fill="#161616" stroke="#161616" stroke-width="0.40">r</text><text transform="translate(585.50,566.50) scale(0.6996,1)" font-family='"Liberation Sans", sans-serif' font-size="17.83" fill="#161616" stroke="#161616" stroke-width="0.40">RR</text><rect x="605.4" y="534.2" width="2.5" height="22.4" fill="#161616"/>
<text transform="translate(737.97,707.80) scale(1.0958,1)" font-family='"Liberation Serif", serif' font-style="italic" font-size="29.71" fill="#161616" stroke="#161616" stroke-width="0.50">k</text><text transform="translate(751.48,717.60) scale(1.0877,1)" font-family='"Liberation Serif", serif' font-style="italic" font-size="16.96" fill="#161616" stroke="#161616" stroke-width="0.40">x</text><text transform="translate(760.72,707.65) scale(0.6984,1)" font-family='"Liberation Sans", sans-serif' font-style="italic" font-size="30.34" fill="#161616" stroke="#161616" stroke-width="0.50">/</text><text transform="translate(767.49,707.80) scale(1.0723,1)" font-family='"Liberation Serif", serif' font-style="italic" font-size="29.71" fill="#161616" stroke="#161616" stroke-width="0.50">k</text><text transform="translate(781.30,717.23) scale(0.8659,1)" font-family='"Liberation Sans", sans-serif' font-size="17.32" fill="#161616" stroke="#161616" stroke-width="0.40">0</text>
</svg></body></html>
